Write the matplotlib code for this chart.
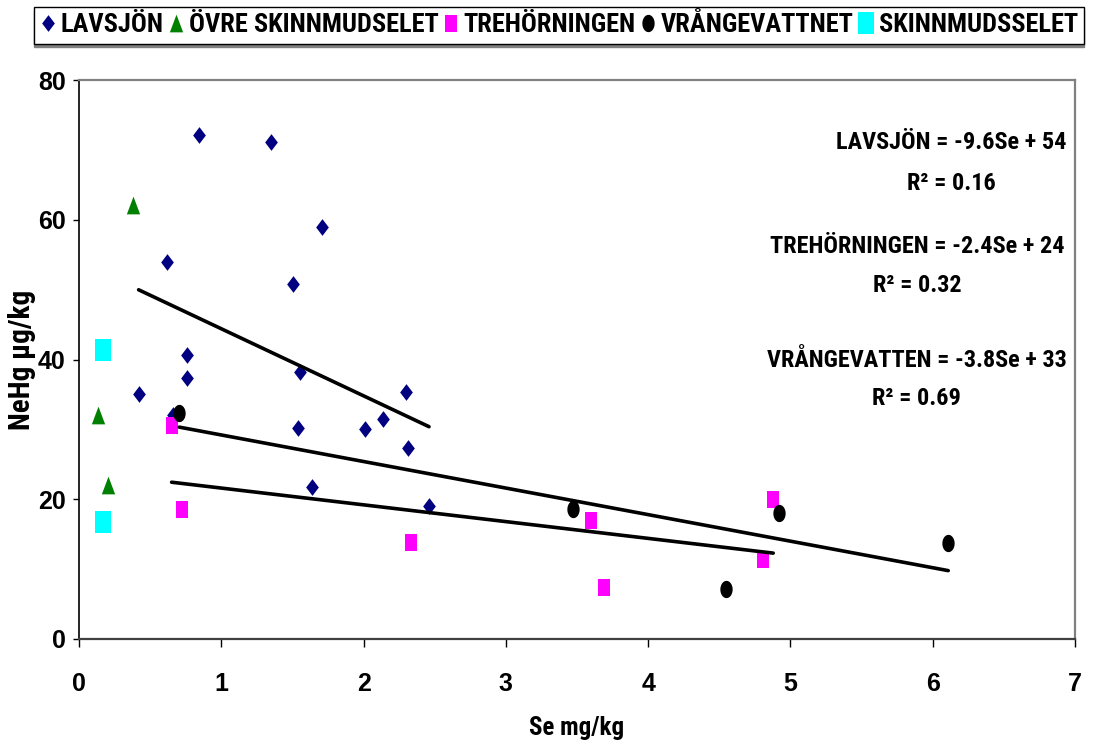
import matplotlib
matplotlib.use('Agg')
import matplotlib.pyplot as plt
import numpy as np

# Data: Se mg/kg vs NeHg ug/kg
lavsjon_se = [0.845, 1.347, 0.621, 1.708, 1.506, 0.757, 0.757, 1.553, 0.419,
              2.296, 0.66, 1.541, 2.010, 2.139, 2.314, 1.637, 2.460]
lavsjon_hg = [72.2, 71.1, 54.0, 59.0, 50.8, 40.7, 37.4, 38.2, 35.0,
              35.4, 32.0, 30.2, 30.0, 31.5, 27.3, 21.8, 19.1]

ovre_se = [0.382, 0.134, 0.204]
ovre_hg = [62.1, 32.1, 22.1]

treh_se = [0.651, 0.722, 2.331, 3.598, 3.688, 4.879, 4.804]
treh_hg = [30.6, 18.6, 13.9, 17.0, 7.4, 20.1, 11.45]

vrang_se = [0.705, 3.470, 4.548, 4.919, 6.109]
vrang_hg = [32.4, 18.6, 7.15, 18.0, 13.8]

skinn_se = [0.166, 0.171]
skinn_hg = [41.4, 16.8]

# Trendlines as printed on the chart
fit_names = ['LAVSJÖN', 'TREHÖRNINGEN', 'VRÅNGEVATTEN']
fit_slopes = [-9.6, -2.4, -3.8]
fit_intercepts = [54, 24, 33]
fit_r2 = ['0.16', '0.32', '0.69']

# narrow bold font for the labels (original looks like Arial Narrow)
NARROW = ['Roboto Condensed', 'PT Sans Narrow', 'DejaVu Sans']
plt.rcParams['font.family'] = ['Liberation Sans', 'DejaVu Sans']
plt.rcParams['font.weight'] = 'bold'

# Marker shapes (the original is a bit stretched vertically)
diamond = [(0, -8.35), (6.35, 0), (0, 8.35), (-6.35, 0)]
triangle = [(-6.65, -8.85), (6.65, -8.85), (0, 8.85)]
square = [(-6, -8.5), (6, -8.5), (6, 8.5), (-6, 8.5)]
bigsquare = [(-8.35, -10.65), (8.35, -10.65), (8.35, 10.65), (-8.35, 10.65)]
t = np.linspace(0, 2 * np.pi, 40)
ellipse = list(zip(6.15 * np.cos(t), 8.65 * np.sin(t)))

PX = 72.0 / 100  # points per pixel

fig = plt.figure(figsize=(10.94, 7.47), dpi=100)
ax = fig.add_axes([79 / 1094, 1 - 639 / 747, 996 / 1094, 559 / 747])

series = [
    ('LAVSJÖN', lavsjon_se, lavsjon_hg, diamond, 16.7, '#000080'),
    ('ÖVRE SKINNMUDSELET', ovre_se, ovre_hg, triangle, 17.7, '#008000'),
    ('TREHÖRNINGEN', treh_se, treh_hg, square, 17.0, '#FF00FF'),
    ('VRÅNGEVATTNET', vrang_se, vrang_hg, ellipse, 17.3, '#000000'),
    ('SKINNMUDSSELET', skinn_se, skinn_hg, bigsquare, 21.3, '#00FFFF'),
]
for name, xs, ys, mk, size, col in series:
    ax.plot(xs, ys, linestyle='none', marker=mk, markersize=size * PX,
            color=col, markeredgewidth=0, label=name, zorder=3)

# trendlines over the x range of each series
fit_x = [lavsjon_se, treh_se, vrang_se]
for xs, a, b in zip(fit_x, fit_slopes, fit_intercepts):
    xx = np.array([min(xs), max(xs)])
    ax.plot(xx, a * xx + b, color='black', lw=2.6, zorder=4,
            solid_capstyle='round')

# equation labels
lab_x = [0.876, 0.842, 0.841]
lab_y = [0.889, 0.703, 0.499]
r2_y = [0.814, 0.633, 0.431]
for i in range(3):
    ax.text(lab_x[i], lab_y[i],
            '%s = %sSe + %d' % (fit_names[i], fit_slopes[i], fit_intercepts[i]),
            transform=ax.transAxes, ha='center', va='center',
            fontsize=17.5, family=NARROW, fontweight='bold')
    ax.text(lab_x[i], r2_y[i], 'R² = %s' % fit_r2[i],
            transform=ax.transAxes, ha='center', va='center',
            fontsize=17.5, family=NARROW, fontweight='bold')

ax.set_xlim(0, 7)
ax.set_ylim(0, 80)
ax.set_xticks(range(0, 8))
ax.set_yticks(range(0, 81, 20))
ax.tick_params(axis='x', direction='out', length=6, width=1, pad=18,
               labelsize=18)
ax.tick_params(axis='y', direction='out', length=4.5, width=1, pad=5,
               labelsize=18)

ax.spines['left'].set_color('black')
ax.spines['left'].set_linewidth(1.2)
ax.spines['bottom'].set_color('#404040')
ax.spines['bottom'].set_linewidth(1.6)
for s in ['top', 'right']:
    ax.spines[s].set_color('#808080')
    ax.spines[s].set_linewidth(1.6)

ax.set_xlabel('Se mg/kg', fontsize=18, family=NARROW, fontweight='bold')
ax.xaxis.set_label_coords(0.5, -0.138)
ax.set_ylabel('NeHg µg/kg', fontsize=21, family=NARROW, fontweight='bold')
ax.yaxis.set_label_coords(-0.043, 0.5)

leg = fig.legend(loc='center', bbox_to_anchor=(559 / 1094, 1 - 25.5 / 747),
                 ncol=5, frameon=True, fancybox=False, borderpad=0.25,
                 handlelength=0.6, handletextpad=0.17, columnspacing=0.18,
                 prop={'family': NARROW, 'weight': 'bold', 'size': 19},
                 shadow={'ox': 0, 'oy': -2, 'color': '#808080', 'alpha': 1})
leg.get_frame().set_edgecolor('black')
leg.get_frame().set_linewidth(1)

fig.savefig('out.png', dpi=100)
